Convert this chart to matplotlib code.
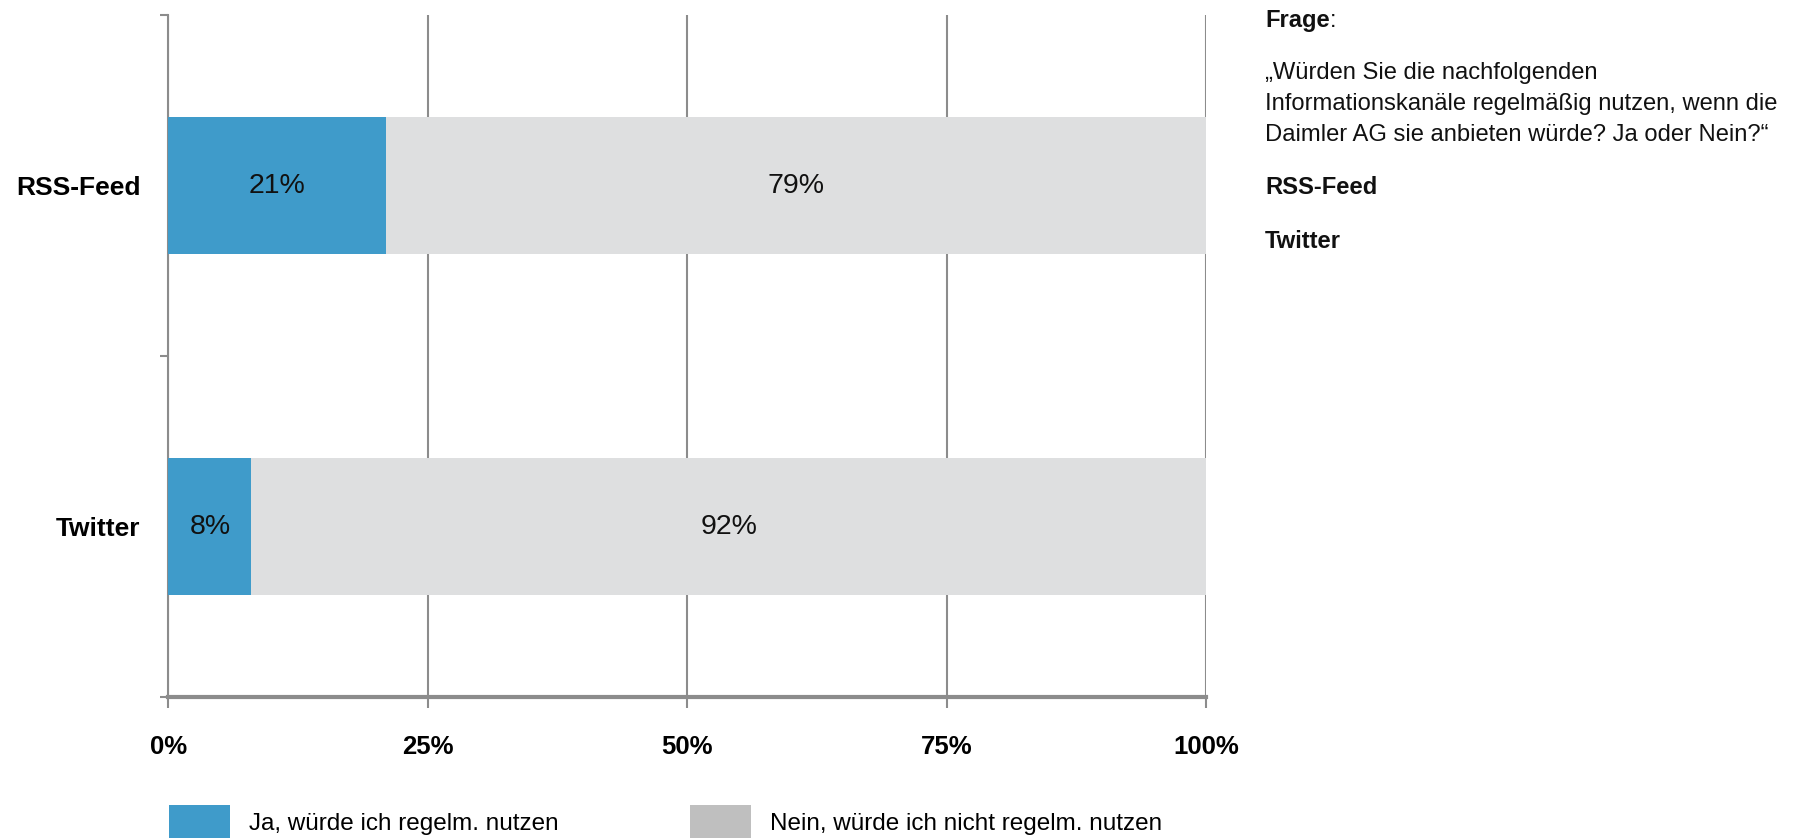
import numpy as np
import matplotlib.pyplot as plt
from matplotlib.patches import Patch

# Data
channels = ["RSS-Feed", "Twitter"]
ja = [21, 8]
nein = [79, 92]
series_labels = ["Ja, würde ich regelm. nutzen", "Nein, würde ich nicht regelm. nutzen"]
xticks = [0, 25, 50, 75, 100]
question = ["„Würden Sie die nachfolgenden",
            "Informationskanäle regelmäßig nutzen, wenn die",
            "Daimler AG sie anbieten würde? Ja oder Nein?“"]

font = ["Liberation Sans", "DejaVu Sans"]
blue = "#3f9bca"
light = "#dedfe0"
legend_grey = "#bfbfbf"
line_grey = "#8c8c8c"

fig = plt.figure(figsize=(18, 8.39), dpi=100)
ax = fig.add_axes([0.0936, 0.1692, 0.5764, 0.8129])

y = np.arange(len(channels))
ax.barh(y, ja, height=0.4, color=blue, zorder=3)
ax.barh(y, nein, left=ja, height=0.4, color=light, zorder=3)

for i in range(len(channels)):
    ax.text(ja[i] / 2, y[i], f"{ja[i]}%", ha="center", va="center",
            fontsize=20.5, family=font, color="#111", zorder=4)
    ax.text(ja[i] + nein[i] / 2, y[i], f"{nein[i]}%", ha="center", va="center",
            fontsize=20.5, family=font, color="#111", zorder=4)

ax.set_xlim(0, 100)
ax.set_ylim(len(channels) - 0.5, -0.5)

ax.set_xticks(xticks)
ax.set_xticklabels([f"{t}%" for t in xticks], fontsize=18.5, family=font,
                   fontweight="bold")
ax.tick_params(axis="x", length=8, width=1.5, color=line_grey, pad=19)
ax.grid(axis="x", color=line_grey, linewidth=1.5, zorder=0)

ax.set_yticks(y)
ax.set_yticklabels(channels, fontsize=19, family=font, fontweight="bold")
ax.tick_params(axis="y", which="major", length=0, pad=20)
ax.set_yticks([-0.5, 0.5, 1.5], minor=True)
ax.tick_params(axis="y", which="minor", length=6, width=1.5, color=line_grey)

for s in ["top", "right"]:
    ax.spines[s].set_visible(False)
ax.spines["left"].set_color(line_grey)
ax.spines["left"].set_linewidth(1.5)
ax.spines["bottom"].set_color(line_grey)
ax.spines["bottom"].set_linewidth(3)

# legend
handles = [Patch(facecolor=blue), Patch(facecolor=legend_grey)]
fig.legend(handles, series_labels, loc="upper left",
           bbox_to_anchor=(0.0939, 0.04), ncol=2, frameon=False,
           prop={"family": font, "size": 17.5}, handlelength=2.5,
           handleheight=1.7, handletextpad=0.8, columnspacing=5.4,
           borderpad=0, borderaxespad=0)

# question text on the right
tx = 1265 / 1800
fs = 17.1
fig.canvas.draw()
r = fig.canvas.get_renderer()
t = fig.text(tx, 1 - 21 / 839, "Frage", fontsize=fs, family=font,
             fontweight="bold", va="center", color="#111")
bb = t.get_window_extent(r)
fig.text(bb.x1 / 1800, 1 - 21 / 839, ":", fontsize=fs, family=font,
         va="center", color="#111")
for k, line in enumerate(question):
    fig.text(tx, 1 - (73 + 31 * k) / 839, line, fontsize=fs, family=font,
             va="center", color="#111")
fig.text(tx, 1 - 188 / 839, channels[0], fontsize=fs, family=font,
         fontweight="bold", va="center", color="#111")
fig.text(tx, 1 - 242 / 839, channels[1], fontsize=fs, family=font,
         fontweight="bold", va="center", color="#111")

fig.savefig("out.png", dpi=100)
